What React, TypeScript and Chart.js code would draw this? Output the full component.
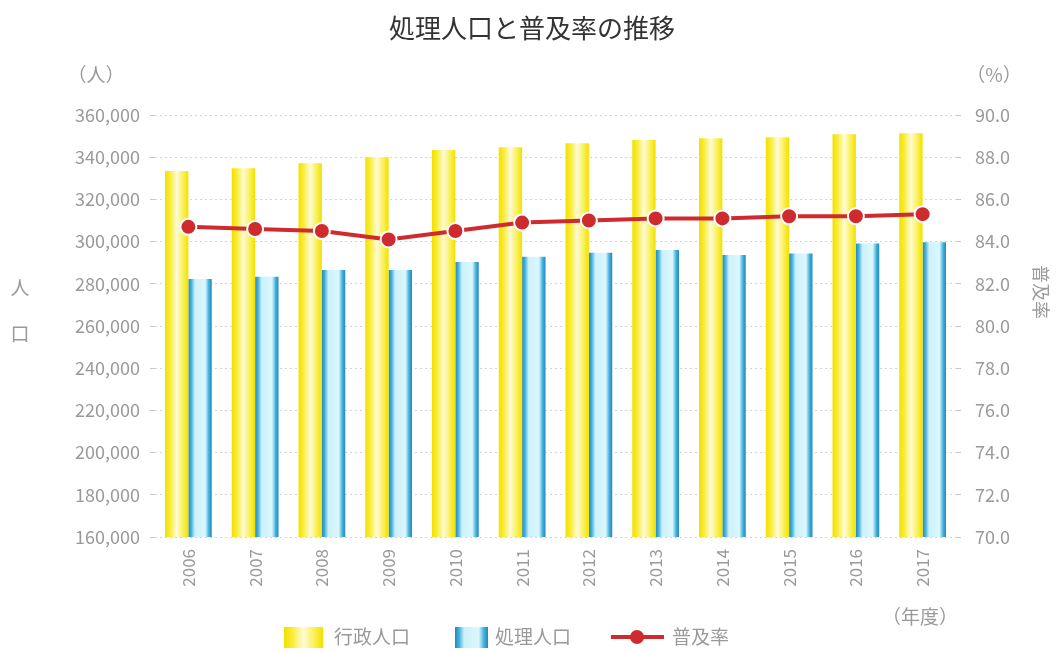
import React, { useEffect, useRef } from "react";
import { Chart, registerables } from "chart.js";

Chart.register(...registerables);

const TITLE = "処理人口と普及率の推移";
const YEARS = ["2006", "2007", "2008", "2009", "2010", "2011", "2012", "2013", "2014", "2015", "2016", "2017"];
const ADMIN_POP = [333500, 334800, 337100, 340000, 343400, 344700, 346600, 348200, 349000, 349500, 350900, 351400];
const SERVED_POP = [282300, 283400, 286500, 286500, 290300, 292800, 294700, 296000, 293600, 294400, 299100, 299700];
const RATE = [84.7, 84.6, 84.5, 84.1, 84.5, 84.9, 85.0, 85.1, 85.1, 85.2, 85.2, 85.3];
const SERIES_NAMES = ["行政人口", "処理人口", "普及率"];
const LEFT_UNIT = "（人）";
const RIGHT_UNIT = "（%）";
const X_UNIT = "（年度）";
const LEFT_TITLE = ["人", "口"];
const RIGHT_TITLE = "普及率";

const FONT = "'Noto Sans CJK JP', 'Noto Sans', sans-serif";
const GRAY = "#9a9a9a";
const RED = "#cf2a2e";
const CAT_PCT = 0.7;

function yellowGrad(c: CanvasRenderingContext2D, x0: number, x1: number) {
  const g = c.createLinearGradient(x0, 0, x1, 0);
  g.addColorStop(0, "#f3df00");
  g.addColorStop(0.2, "#f8ec30");
  g.addColorStop(0.5, "#fffbd6");
  g.addColorStop(0.8, "#f9ef4a");
  g.addColorStop(1, "#f3df00");
  return g;
}

function blueGrad(c: CanvasRenderingContext2D, x0: number, x1: number) {
  const g = c.createLinearGradient(x0, 0, x1, 0);
  g.addColorStop(0, "#2686bd");
  g.addColorStop(0.12, "#3fb0dc");
  g.addColorStop(0.28, "#cdf1fa");
  g.addColorStop(0.72, "#dbf7fd");
  g.addColorStop(0.88, "#3fb0dc");
  g.addColorStop(1, "#2686bd");
  return g;
}

function barFill(which: number) {
  return (ctx: any) => {
    const chart = ctx.chart;
    const xs = chart.scales && chart.scales.x;
    if (!xs || !chart.chartArea || ctx.dataIndex === undefined) return which === 0 ? "#f6e620" : "#55bde3";
    const center = xs.getPixelForValue(ctx.dataIndex);
    const cat = (xs.right - xs.left) / YEARS.length;
    const half = (cat * CAT_PCT) / 2;
    const x0 = which === 0 ? center - half : center;
    const x1 = x0 + half;
    return which === 0 ? yellowGrad(chart.ctx, x0, x1) : blueGrad(chart.ctx, x0, x1);
  };
}

const textPlugin = {
  id: "texts",
  afterDraw(chart: any) {
    const c: CanvasRenderingContext2D = chart.ctx;
    c.save();
    // title
    c.fillStyle = "#333";
    c.font = `26px ${FONT}`;
    c.textAlign = "center";
    c.textBaseline = "middle";
    c.fillText(TITLE, 532, 28);

    c.fillStyle = GRAY;
    c.font = `19px ${FONT}`;
    c.fillText(LEFT_UNIT, 96, 75);
    c.fillText(RIGHT_UNIT, 994, 75);
    c.fillText(X_UNIT, 920, 617);
    c.fillText(LEFT_TITLE[0], 20, 288);
    c.fillText(LEFT_TITLE[1], 20, 334);

    c.save();
    c.translate(1041, 292);
    c.rotate(Math.PI / 2);
    c.font = `18px ${FONT}`;
    c.fillText(RIGHT_TITLE, 0, 0);
    c.restore();

    // legend
    const ly = 637;
    c.fillStyle = yellowGrad(c, 284, 323);
    c.fillRect(284, 627, 39, 21);
    c.fillStyle = blueGrad(c, 455, 488);
    c.fillRect(455, 627, 33, 21);
    c.strokeStyle = RED;
    c.lineWidth = 4;
    c.beginPath();
    c.moveTo(611, ly);
    c.lineTo(664, ly);
    c.stroke();
    c.fillStyle = RED;
    c.beginPath();
    c.arc(637, ly, 7, 0, Math.PI * 2);
    c.fill();
    c.fillStyle = GRAY;
    c.font = `19px ${FONT}`;
    c.textAlign = "left";
    c.fillText(SERIES_NAMES[0], 334, ly);
    c.fillText(SERIES_NAMES[1], 495, ly);
    c.fillText(SERIES_NAMES[2], 672, ly);
    c.restore();
  },
};

export default function App() {
  const ref = useRef<HTMLCanvasElement>(null);
  useEffect(() => {
    if (!ref.current) return;
    const chart = new Chart(ref.current, {
      type: "bar",
      data: {
        labels: YEARS,
        datasets: [
          {
            type: "line",
            label: SERIES_NAMES[2],
            data: RATE,
            yAxisID: "y1",
            borderColor: RED,
            borderWidth: 4,
            pointRadius: 8,
            pointBackgroundColor: RED,
            pointBorderColor: "#ffffff",
            pointBorderWidth: 2,
            order: 0,
          } as any,
          {
            label: SERIES_NAMES[0],
            data: ADMIN_POP,
            yAxisID: "y",
            backgroundColor: barFill(0),
            borderWidth: 0,
            categoryPercentage: CAT_PCT,
            barPercentage: 1,
            order: 1,
          },
          {
            label: SERIES_NAMES[1],
            data: SERVED_POP,
            yAxisID: "y",
            backgroundColor: barFill(1),
            borderWidth: 0,
            categoryPercentage: CAT_PCT,
            barPercentage: 1,
            order: 1,
          },
        ],
      },
      options: {
        responsive: false,
        animation: false,
        layout: { padding: { top: 115, left: 0, right: 0, bottom: 0 } },
        plugins: {
          legend: { display: false },
          title: { display: false },
          tooltip: { enabled: false },
        },
        scales: {
          x: {
            grid: { display: false },
            border: { display: false },
            ticks: {
              color: GRAY,
              font: { family: FONT, size: 17 },
              maxRotation: 90,
              minRotation: 90,
              padding: 4,
            },
            afterFit: (s: any) => {
              s.height = 115;
            },
          },
          y: {
            position: "left",
            min: 160000,
            max: 360000,
            border: { display: false, dash: [2, 3] } as any,
            grid: {
              color: "#d4d4d4",
              tickLength: 5,
              tickColor: "#c8c8c8",
            } as any,
            ticks: {
              stepSize: 20000,
              color: GRAY,
              padding: 10,
              font: { family: FONT, size: 18 },
              callback: (v: any) => Number(v).toLocaleString("en-US"),
            },
            afterFit: (s: any) => {
              s.width = 155;
            },
          },
          y1: {
            position: "right",
            min: 70,
            max: 90,
            border: { display: false },
            grid: { drawOnChartArea: false, tickLength: 5, color: "#c8c8c8" },
            ticks: {
              stepSize: 2,
              color: GRAY,
              padding: 14,
              font: { family: FONT, size: 18 },
              callback: (v: any) => Number(v).toFixed(1),
            },
            afterFit: (s: any) => {
              s.width = 101;
            },
          },
        },
      },
      plugins: [textPlugin],
    });
    return () => chart.destroy();
  }, []);
  return (
    <div style={{ position: "absolute", left: 0, top: 0, width: 1057, height: 652, background: "#fff" }}>
      <canvas ref={ref} width={1057} height={652} style={{ display: "block" }} />
    </div>
  );
}
